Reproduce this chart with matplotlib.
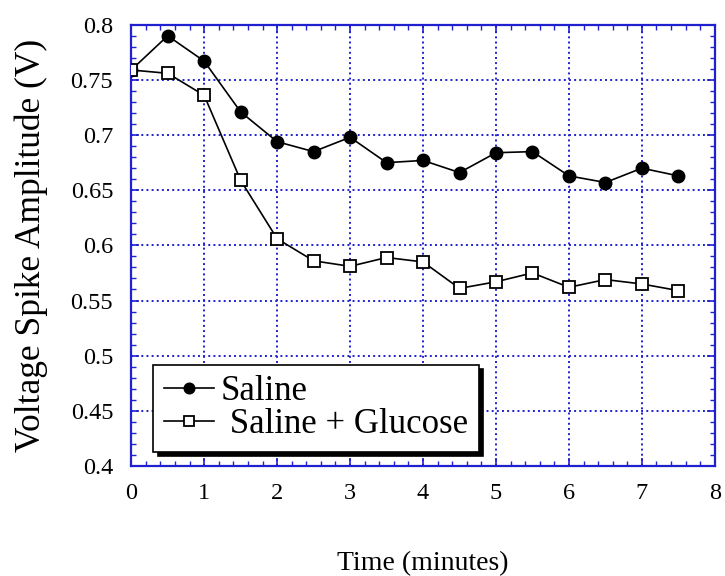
import numpy as np
import matplotlib
matplotlib.use("Agg")
import matplotlib.pyplot as plt
from matplotlib.ticker import MultipleLocator

# data
time_min = [0, 0.5, 1, 1.5, 2, 2.5, 3, 3.5, 4, 4.5, 5, 5.5, 6, 6.5, 7, 7.5]
saline = [0.759, 0.790, 0.767, 0.721, 0.694, 0.685, 0.698, 0.675,
          0.677, 0.666, 0.684, 0.685, 0.663, 0.657, 0.670, 0.663]
saline_glucose = [0.759, 0.756, 0.736, 0.659, 0.606, 0.586, 0.581, 0.589,
                  0.585, 0.561, 0.567, 0.575, 0.562, 0.569, 0.565, 0.559]
ytick_vals = [0.4, 0.45, 0.5, 0.55, 0.6, 0.65, 0.7, 0.75, 0.8]
ytick_labels = ['0.4', '0.45', '0.5', '0.55', '0.6', '0.65', '0.7', '0.75', '0.8']

plt.rcParams['font.family'] = ['Liberation Serif', 'DejaVu Serif']
blue = '#2020d0'

fig = plt.figure(figsize=(7.25, 5.76), dpi=100)
ax = fig.add_axes([0.181, 0.191, 0.805, 0.766])

ax.plot(time_min, saline, '-o', color='black', lw=1.2, markersize=9,
        markerfacecolor='black', label='Saline', zorder=3)
ax.plot(time_min, saline_glucose, '-s', color='black', lw=1.2, markersize=8.5,
        markerfacecolor='white', markeredgewidth=1.3,
        label=' Saline + Glucose', zorder=3)

ax.set_xlim(0, 8)
ax.set_ylim(0.4, 0.8)
ax.xaxis.set_major_locator(MultipleLocator(1))
ax.xaxis.set_minor_locator(MultipleLocator(0.2))
ax.yaxis.set_minor_locator(MultipleLocator(0.01))
ax.set_yticks(ytick_vals)
ax.set_yticklabels(ytick_labels)

ax.tick_params(which='both', direction='in', top=True, right=True, color=blue,
               labelsize=17.5, labelcolor='black')
ax.tick_params(which='major', length=6, width=1.2)
ax.tick_params(which='minor', length=3.5, width=1)
ax.tick_params(axis='x', which='major', pad=12)
ax.tick_params(axis='y', which='major', pad=13)
for s in ax.spines.values():
    s.set_color(blue)
    s.set_linewidth(1.6)

ax.grid(True, which='major', color=blue, linestyle=':', linewidth=1.4)

ax.set_ylabel('Voltage Spike Amplitude (V)', fontsize=25.5)
ax.yaxis.set_label_coords(-0.142, 0.5)
ax.set_xlabel('Time (minutes)', fontsize=20)
ax.xaxis.set_label_coords(0.5, -0.192)

leg = ax.legend(loc='lower left', bbox_to_anchor=(0.038, 0.032), fontsize=25,
                frameon=True, fancybox=False, handlelength=1.45,
                handletextpad=0.2, borderpad=0.3, labelspacing=0.0,
                borderaxespad=0, markerscale=0.85,
                shadow={'color': 'black', 'alpha': 1, 'ox': 3, 'oy': -3})
leg.get_frame().set_edgecolor('black')
leg.get_frame().set_linewidth(1.2)
leg.get_frame().set_alpha(1)

fig.savefig('out.png', dpi=100)
